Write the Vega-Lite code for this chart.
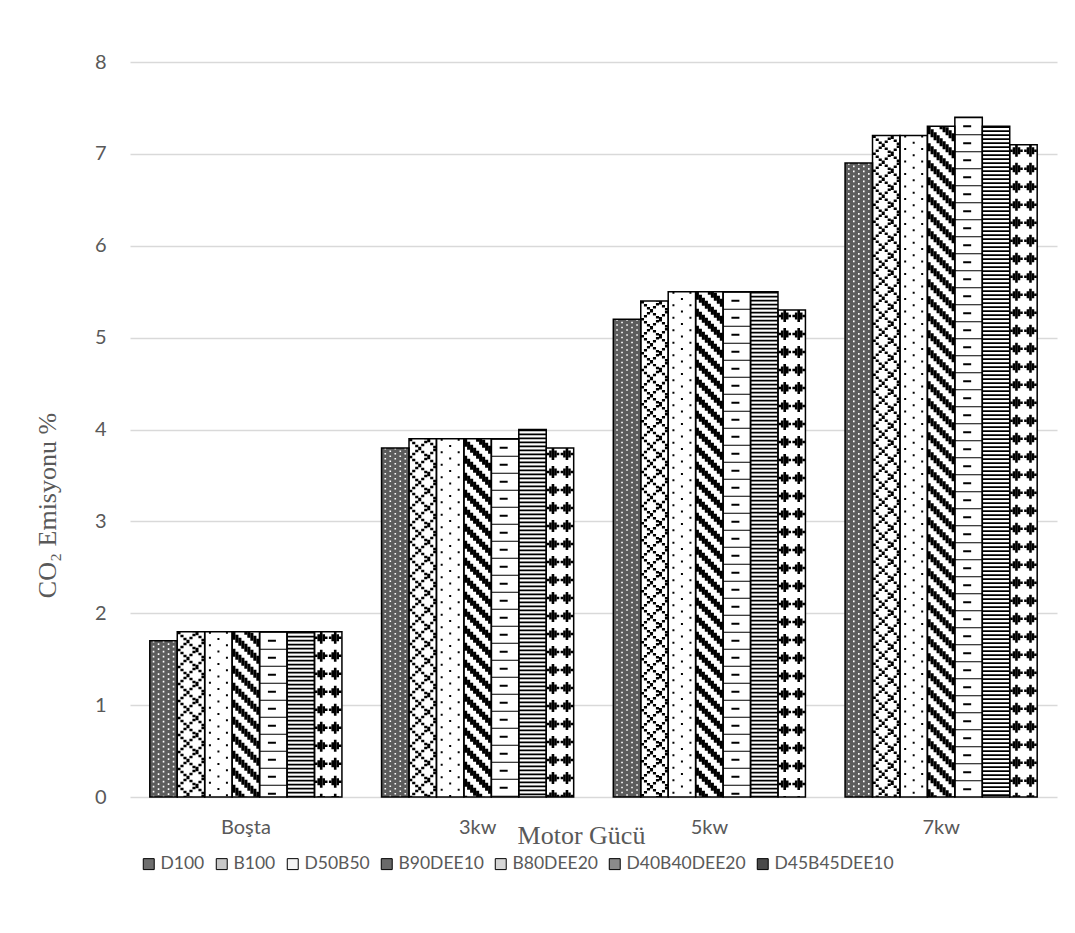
{
  "$schema": "https://vega.github.io/schema/vega-lite/v6.json",
  "width": 927,
  "height": 735,
  "autosize": "none",
  "padding": {"left": 130, "top": 62, "right": 18, "bottom": 136},
  "background": "white",
  "config": {"view": {"stroke": null}, "font": "Lato"},
  "data": {
    "values": [
      {"group": "Boşta", "fuel": "D100", "value": 1.7},
      {"group": "Boşta", "fuel": "B100", "value": 1.8},
      {"group": "Boşta", "fuel": "D50B50", "value": 1.8},
      {"group": "Boşta", "fuel": "B90DEE10", "value": 1.8},
      {"group": "Boşta", "fuel": "B80DEE20", "value": 1.8},
      {"group": "Boşta", "fuel": "D40B40DEE20", "value": 1.8},
      {"group": "Boşta", "fuel": "D45B45DEE10", "value": 1.8},
      {"group": "3kw", "fuel": "D100", "value": 3.8},
      {"group": "3kw", "fuel": "B100", "value": 3.9},
      {"group": "3kw", "fuel": "D50B50", "value": 3.9},
      {"group": "3kw", "fuel": "B90DEE10", "value": 3.9},
      {"group": "3kw", "fuel": "B80DEE20", "value": 3.9},
      {"group": "3kw", "fuel": "D40B40DEE20", "value": 4.0},
      {"group": "3kw", "fuel": "D45B45DEE10", "value": 3.8},
      {"group": "5kw", "fuel": "D100", "value": 5.2},
      {"group": "5kw", "fuel": "B100", "value": 5.4},
      {"group": "5kw", "fuel": "D50B50", "value": 5.5},
      {"group": "5kw", "fuel": "B90DEE10", "value": 5.5},
      {"group": "5kw", "fuel": "B80DEE20", "value": 5.5},
      {"group": "5kw", "fuel": "D40B40DEE20", "value": 5.5},
      {"group": "5kw", "fuel": "D45B45DEE10", "value": 5.3},
      {"group": "7kw", "fuel": "D100", "value": 6.9},
      {"group": "7kw", "fuel": "B100", "value": 7.2},
      {"group": "7kw", "fuel": "D50B50", "value": 7.2},
      {"group": "7kw", "fuel": "B90DEE10", "value": 7.3},
      {"group": "7kw", "fuel": "B80DEE20", "value": 7.4},
      {"group": "7kw", "fuel": "D40B40DEE20", "value": 7.3},
      {"group": "7kw", "fuel": "D45B45DEE10", "value": 7.1}
    ]
  },
  "resolve": {"scale": {"xOffset": "independent"}},
  "encoding": {
    "x": {
      "field": "group",
      "type": "nominal",
      "sort": ["Boşta", "3kw", "5kw", "7kw"],
      "scale": {"paddingInner": 0.171, "paddingOuter": 0.0855},
      "axis": {
        "title": "Motor Gücü",
        "labelAngle": 0,
        "domain": false,
        "ticks": false,
        "labelFont": "Lato",
        "labelFontSize": 20,
        "labelColor": "#595959",
        "labelPadding": 20,
        "titleFont": "Liberation Serif",
        "titleFontSize": 26,
        "titleFontWeight": "normal",
        "titleColor": "#595959",
        "titleAlign": "center",
        "titleBaseline": "alphabetic",
        "titleX": 451,
        "titleY": 46
      }
    },
    "y": {
      "field": "value",
      "type": "quantitative",
      "scale": {"domain": [0, 8]},
      "axis": {
        "title": "CO₂ Emisyonu %",
        "values": [0, 1, 2, 3, 4, 5, 6, 7, 8],
        "domain": false,
        "ticks": false,
        "gridColor": "#d9d9d9",
        "gridWidth": 1.3,
        "labelFont": "Lato",
        "labelFontSize": 20,
        "labelColor": "#595959",
        "labelPadding": 24,
        "titleFont": "Liberation Serif",
        "titleFontSize": 26,
        "titleFontWeight": "normal",
        "titleColor": "#595959",
        "titleAlign": "center",
        "titleBaseline": "alphabetic",
        "titleX": -75,
        "titleY": 443
      }
    }
  },
  "layer": [
    {
      "mark": {"type": "bar"},
      "encoding": {
        "xOffset": {"field": "fuel", "type": "nominal", "scale": {"domain": ["D100", "B100", "D50B50", "B90DEE10", "B80DEE20", "D40B40DEE20", "D45B45DEE10"], "paddingInner": 0, "paddingOuter": 0}},
        "fill": {
          "field": "fuel",
          "type": "nominal",
          "scale": {
            "domain": ["D100", "B100", "D50B50", "B90DEE10", "B80DEE20", "D40B40DEE20", "D45B45DEE10"],
            "range": ["#6e6e6e", "#c8c8c8", "#f4f4f4", "#6a6a6a", "#d6d6d6", "#8a8a8a", "#4a4a4a"]
          },
          "legend": {
            "title": null,
            "orient": "none",
            "legendX": 10,
            "legendY": 793,
            "direction": "horizontal",
            "columns": 7,
            "columnPadding": 8,
            "symbolType": "square",
            "symbolSize": 120,
            "symbolStrokeColor": "black",
            "symbolStrokeWidth": 1,
            "labelFont": "Lato",
            "labelFontSize": 17.5,
            "labelColor": "#595959",
            "labelOffset": 3
          }
        }
      }
    },
    {
      "mark": {"type": "bar"},
      "encoding": {
        "xOffset": {"field": "fuel", "type": "nominal", "scale": {"domain": ["D100", "B100", "D50B50", "B90DEE10", "B80DEE20", "D40B40DEE20", "D45B45DEE10"], "paddingInner": 0, "paddingOuter": 0}},
        "color": {
          "field": "fuel",
          "type": "nominal",
          "scale": {
            "domain": ["D100", "B100", "D50B50", "B90DEE10", "B80DEE20", "D40B40DEE20", "D45B45DEE10"],
            "range": ["#5c5c5c", "#ffffff", "#ffffff", "#ffffff", "#ffffff", "#ffffff", "#ffffff"]
          },
          "legend": null
        }
      }
    },
    {
      "transform": [{"filter": {"field": "fuel", "equal": "D100"}}],
      "mark": {"type": "rule", "color": "white", "strokeWidth": 1.6, "strokeDash": [1.6, 3.4]},
      "encoding": {
        "xOffset": {"field": "fuel", "type": "nominal", "scale": {"domain": ["D100", "B100", "D50B50", "B90DEE10", "B80DEE20", "D40B40DEE20", "D45B45DEE10"], "range": [-10, 182.12], "paddingInner": 0, "paddingOuter": 0}},
        "y2": {"datum": 0}
      }
    },
    {
      "transform": [{"filter": {"field": "fuel", "equal": "D100"}}],
      "mark": {"type": "rule", "color": "white", "strokeWidth": 1.6, "strokeDash": [0, 2.5, 1.6, 0.9]},
      "encoding": {
        "xOffset": {"field": "fuel", "type": "nominal", "scale": {"domain": ["D100", "B100", "D50B50", "B90DEE10", "B80DEE20", "D40B40DEE20", "D45B45DEE10"], "range": [-5, 187.12], "paddingInner": 0, "paddingOuter": 0}},
        "y2": {"datum": 0}
      }
    },
    {
      "transform": [{"filter": {"field": "fuel", "equal": "D100"}}],
      "mark": {"type": "rule", "color": "white", "strokeWidth": 1.6, "strokeDash": [1.6, 3.4]},
      "encoding": {
        "xOffset": {"field": "fuel", "type": "nominal", "scale": {"domain": ["D100", "B100", "D50B50", "B90DEE10", "B80DEE20", "D40B40DEE20", "D45B45DEE10"], "range": [0, 192.12], "paddingInner": 0, "paddingOuter": 0}},
        "y2": {"datum": 0}
      }
    },
    {
      "transform": [{"filter": {"field": "fuel", "equal": "D100"}}],
      "mark": {"type": "rule", "color": "white", "strokeWidth": 1.6, "strokeDash": [0, 2.5, 1.6, 0.9]},
      "encoding": {
        "xOffset": {"field": "fuel", "type": "nominal", "scale": {"domain": ["D100", "B100", "D50B50", "B90DEE10", "B80DEE20", "D40B40DEE20", "D45B45DEE10"], "range": [5, 197.12], "paddingInner": 0, "paddingOuter": 0}},
        "y2": {"datum": 0}
      }
    },
    {
      "transform": [{"filter": {"field": "fuel", "equal": "D100"}}],
      "mark": {"type": "rule", "color": "white", "strokeWidth": 1.6, "strokeDash": [1.6, 3.4]},
      "encoding": {
        "xOffset": {"field": "fuel", "type": "nominal", "scale": {"domain": ["D100", "B100", "D50B50", "B90DEE10", "B80DEE20", "D40B40DEE20", "D45B45DEE10"], "range": [10, 202.12], "paddingInner": 0, "paddingOuter": 0}},
        "y2": {"datum": 0}
      }
    },
    {
      "transform": [{"filter": {"field": "fuel", "oneOf": ["B100", "B90DEE10"]}}],
      "mark": {"type": "rule", "color": "black", "strokeWidth": 3.1},
      "encoding": {
        "xOffset": {"field": "fuel", "type": "nominal", "scale": {"domain": ["D100", "B100", "D50B50", "B90DEE10", "B80DEE20", "D40B40DEE20", "D45B45DEE10"], "range": [-12, 180.12], "paddingInner": 0, "paddingOuter": 0}},
        "y2": {"datum": 0},
        "strokeDash": {"condition": {"test": "datum.fuel === 'B100'", "value": [2.5, 14.5]}, "value": [8, 9]}
      }
    },
    {
      "transform": [{"filter": {"field": "fuel", "oneOf": ["B100", "B90DEE10"]}}],
      "mark": {"type": "rule", "color": "black", "strokeWidth": 3.1},
      "encoding": {
        "xOffset": {"field": "fuel", "type": "nominal", "scale": {"domain": ["D100", "B100", "D50B50", "B90DEE10", "B80DEE20", "D40B40DEE20", "D45B45DEE10"], "range": [-9, 183.12], "paddingInner": 0, "paddingOuter": 0}},
        "y2": {"datum": 0},
        "strokeDash": {"condition": {"test": "datum.fuel === 'B100'", "value": [0, 3, 2.5, 8.5, 2.5, 0.5]}, "value": [0, 3, 8, 6]}
      }
    },
    {
      "transform": [{"filter": {"field": "fuel", "oneOf": ["B100", "B90DEE10"]}}],
      "mark": {"type": "rule", "color": "black", "strokeWidth": 3.1},
      "encoding": {
        "xOffset": {"field": "fuel", "type": "nominal", "scale": {"domain": ["D100", "B100", "D50B50", "B90DEE10", "B80DEE20", "D40B40DEE20", "D45B45DEE10"], "range": [-6, 186.12], "paddingInner": 0, "paddingOuter": 0}},
        "y2": {"datum": 0},
        "strokeDash": {"condition": {"test": "datum.fuel === 'B100'", "value": [0, 6, 2.5, 2.5, 2.5, 3.5]}, "value": [0, 6, 8, 3]}
      }
    },
    {
      "transform": [{"filter": {"field": "fuel", "oneOf": ["B100", "B90DEE10"]}}],
      "mark": {"type": "rule", "color": "black", "strokeWidth": 3.1},
      "encoding": {
        "xOffset": {"field": "fuel", "type": "nominal", "scale": {"domain": ["D100", "B100", "D50B50", "B90DEE10", "B80DEE20", "D40B40DEE20", "D45B45DEE10"], "range": [-3, 189.12], "paddingInner": 0, "paddingOuter": 0}},
        "y2": {"datum": 0},
        "strokeDash": {"condition": {"test": "datum.fuel === 'B100'", "value": [0, 8, 3.5, 5.5]}, "value": [0, 9, 8, 0]}
      }
    },
    {
      "transform": [{"filter": {"field": "fuel", "oneOf": ["B100", "B90DEE10"]}}],
      "mark": {"type": "rule", "color": "black", "strokeWidth": 3.1},
      "encoding": {
        "xOffset": {"field": "fuel", "type": "nominal", "scale": {"domain": ["D100", "B100", "D50B50", "B90DEE10", "B80DEE20", "D40B40DEE20", "D45B45DEE10"], "range": [0, 192.12], "paddingInner": 0, "paddingOuter": 0}},
        "y2": {"datum": 0},
        "strokeDash": {"condition": {"test": "datum.fuel === 'B100'", "value": [0, 5, 2.5, 4.5, 2.5, 2.5]}, "value": [3, 9, 5, 0]}
      }
    },
    {
      "transform": [{"filter": {"field": "fuel", "oneOf": ["B100", "B90DEE10"]}}],
      "mark": {"type": "rule", "color": "black", "strokeWidth": 3.1},
      "encoding": {
        "xOffset": {"field": "fuel", "type": "nominal", "scale": {"domain": ["D100", "B100", "D50B50", "B90DEE10", "B80DEE20", "D40B40DEE20", "D45B45DEE10"], "range": [3, 195.12], "paddingInner": 0, "paddingOuter": 0}},
        "y2": {"datum": 0},
        "strokeDash": {"condition": {"test": "datum.fuel === 'B100'", "value": [0.5, 1.5, 2.5, 10.5, 2, 0]}, "value": [6, 9, 2, 0]}
      }
    },
    {
      "transform": [{"filter": {"field": "fuel", "oneOf": ["B100", "B90DEE10"]}}],
      "mark": {"type": "rule", "color": "black", "strokeWidth": 3.1},
      "encoding": {
        "xOffset": {"field": "fuel", "type": "nominal", "scale": {"domain": ["D100", "B100", "D50B50", "B90DEE10", "B80DEE20", "D40B40DEE20", "D45B45DEE10"], "range": [6, 198.12], "paddingInner": 0, "paddingOuter": 0}},
        "y2": {"datum": 0},
        "strokeDash": {"condition": {"test": "datum.fuel === 'B100'", "value": [3.5, 12.5, 1, 0]}, "value": [0, 1, 8, 8]}
      }
    },
    {
      "transform": [{"filter": {"field": "fuel", "oneOf": ["B100", "B90DEE10"]}}],
      "mark": {"type": "rule", "color": "black", "strokeWidth": 3.1},
      "encoding": {
        "xOffset": {"field": "fuel", "type": "nominal", "scale": {"domain": ["D100", "B100", "D50B50", "B90DEE10", "B80DEE20", "D40B40DEE20", "D45B45DEE10"], "range": [9, 201.12], "paddingInner": 0, "paddingOuter": 0}},
        "y2": {"datum": 0},
        "strokeDash": {"condition": {"test": "datum.fuel === 'B100'", "value": [0, 4, 2.5, 6.5, 2.5, 1.5]}, "value": [0, 4, 8, 5]}
      }
    },
    {
      "transform": [{"filter": {"field": "fuel", "oneOf": ["B100", "B90DEE10"]}}],
      "mark": {"type": "rule", "color": "black", "strokeWidth": 3.1},
      "encoding": {
        "xOffset": {"field": "fuel", "type": "nominal", "scale": {"domain": ["D100", "B100", "D50B50", "B90DEE10", "B80DEE20", "D40B40DEE20", "D45B45DEE10"], "range": [12, 204.12], "paddingInner": 0, "paddingOuter": 0}},
        "y2": {"datum": 0},
        "strokeDash": {"condition": {"test": "datum.fuel === 'B100'", "value": [0, 7, 2.5, 0.5, 2.5, 4.5]}, "value": [0, 7, 8, 2]}
      }
    },
    {
      "transform": [{"filter": {"field": "fuel", "equal": "D50B50"}}],
      "mark": {"type": "rule", "color": "black", "strokeWidth": 2, "strokeDash": [2, 10.5]},
      "encoding": {
        "xOffset": {"field": "fuel", "type": "nominal", "scale": {"domain": ["D100", "B100", "D50B50", "B90DEE10", "B80DEE20", "D40B40DEE20", "D45B45DEE10"], "range": [-8.5, 183.62], "paddingInner": 0, "paddingOuter": 0}},
        "y2": {"datum": 0}
      }
    },
    {
      "transform": [{"filter": {"field": "fuel", "equal": "D50B50"}}],
      "mark": {"type": "rule", "color": "black", "strokeWidth": 2, "strokeDash": [0, 6.25, 2, 4.25]},
      "encoding": {
        "xOffset": {"field": "fuel", "type": "nominal", "scale": {"domain": ["D100", "B100", "D50B50", "B90DEE10", "B80DEE20", "D40B40DEE20", "D45B45DEE10"], "range": [0, 192.12], "paddingInner": 0, "paddingOuter": 0}},
        "y2": {"datum": 0}
      }
    },
    {
      "transform": [{"filter": {"field": "fuel", "equal": "D50B50"}}],
      "mark": {"type": "rule", "color": "black", "strokeWidth": 2, "strokeDash": [2, 10.5]},
      "encoding": {
        "xOffset": {"field": "fuel", "type": "nominal", "scale": {"domain": ["D100", "B100", "D50B50", "B90DEE10", "B80DEE20", "D40B40DEE20", "D45B45DEE10"], "range": [8.5, 200.62], "paddingInner": 0, "paddingOuter": 0}},
        "y2": {"datum": 0}
      }
    },
    {
      "transform": [{"filter": {"field": "fuel", "equal": "B80DEE20"}}],
      "mark": {"type": "rule", "color": "black", "strokeWidth": 27.4, "strokeDash": [1, 16]},
      "encoding": {
        "xOffset": {"field": "fuel", "type": "nominal", "scale": {"domain": ["D100", "B100", "D50B50", "B90DEE10", "B80DEE20", "D40B40DEE20", "D45B45DEE10"], "range": [0, 192.12], "paddingInner": 0, "paddingOuter": 0}},
        "y2": {"datum": 0}
      }
    },
    {
      "transform": [{"filter": {"field": "fuel", "equal": "B80DEE20"}}],
      "mark": {"type": "rule", "color": "black", "strokeWidth": 8, "strokeDash": [0, 8, 2, 7]},
      "encoding": {
        "xOffset": {"field": "fuel", "type": "nominal", "scale": {"domain": ["D100", "B100", "D50B50", "B90DEE10", "B80DEE20", "D40B40DEE20", "D45B45DEE10"], "range": [-1.4, 190.72], "paddingInner": 0, "paddingOuter": 0}},
        "y2": {"datum": 0}
      }
    },
    {
      "transform": [{"filter": {"field": "fuel", "equal": "D40B40DEE20"}}],
      "mark": {"type": "rule", "color": "black", "strokeWidth": 27.4, "strokeDash": [1.8, 2.2]},
      "encoding": {
        "xOffset": {"field": "fuel", "type": "nominal", "scale": {"domain": ["D100", "B100", "D50B50", "B90DEE10", "B80DEE20", "D40B40DEE20", "D45B45DEE10"], "range": [0, 192.12], "paddingInner": 0, "paddingOuter": 0}},
        "y2": {"datum": 0}
      }
    },
    {
      "transform": [{"filter": {"field": "fuel", "equal": "D45B45DEE10"}}],
      "mark": {"type": "rule", "color": "black", "strokeWidth": 2.6, "strokeDash": [0, 4.75, 2.5, 10.75]},
      "encoding": {
        "xOffset": {"field": "fuel", "type": "nominal", "scale": {"domain": ["D100", "B100", "D50B50", "B90DEE10", "B80DEE20", "D40B40DEE20", "D45B45DEE10"], "range": [-12, 180.12], "paddingInner": 0, "paddingOuter": 0}},
        "y2": {"datum": 0}
      }
    },
    {
      "transform": [{"filter": {"field": "fuel", "equal": "D45B45DEE10"}}],
      "mark": {"type": "rule", "color": "black", "strokeWidth": 2.6, "strokeDash": [0, 2.5, 7, 8.5]},
      "encoding": {
        "xOffset": {"field": "fuel", "type": "nominal", "scale": {"domain": ["D100", "B100", "D50B50", "B90DEE10", "B80DEE20", "D40B40DEE20", "D45B45DEE10"], "range": [-9.5, 182.62], "paddingInner": 0, "paddingOuter": 0}},
        "y2": {"datum": 0}
      }
    },
    {
      "transform": [{"filter": {"field": "fuel", "equal": "D45B45DEE10"}}],
      "mark": {"type": "rule", "color": "black", "strokeWidth": 2.6, "strokeDash": [12, 6]},
      "encoding": {
        "xOffset": {"field": "fuel", "type": "nominal", "scale": {"domain": ["D100", "B100", "D50B50", "B90DEE10", "B80DEE20", "D40B40DEE20", "D45B45DEE10"], "range": [-7, 185.12], "paddingInner": 0, "paddingOuter": 0}},
        "y2": {"datum": 0}
      }
    },
    {
      "transform": [{"filter": {"field": "fuel", "equal": "D45B45DEE10"}}],
      "mark": {"type": "rule", "color": "black", "strokeWidth": 2.6, "strokeDash": [0, 2.5, 7, 8.5]},
      "encoding": {
        "xOffset": {"field": "fuel", "type": "nominal", "scale": {"domain": ["D100", "B100", "D50B50", "B90DEE10", "B80DEE20", "D40B40DEE20", "D45B45DEE10"], "range": [-4.5, 187.62], "paddingInner": 0, "paddingOuter": 0}},
        "y2": {"datum": 0}
      }
    },
    {
      "transform": [{"filter": {"field": "fuel", "equal": "D45B45DEE10"}}],
      "mark": {"type": "rule", "color": "black", "strokeWidth": 2.6, "strokeDash": [0, 4.75, 2.5, 10.75]},
      "encoding": {
        "xOffset": {"field": "fuel", "type": "nominal", "scale": {"domain": ["D100", "B100", "D50B50", "B90DEE10", "B80DEE20", "D40B40DEE20", "D45B45DEE10"], "range": [-2, 190.12], "paddingInner": 0, "paddingOuter": 0}},
        "y2": {"datum": 0}
      }
    },
    {
      "transform": [{"filter": {"field": "fuel", "equal": "D45B45DEE10"}}],
      "mark": {"type": "rule", "color": "black", "strokeWidth": 2.6, "strokeDash": [0, 4.75, 2.5, 10.75]},
      "encoding": {
        "xOffset": {"field": "fuel", "type": "nominal", "scale": {"domain": ["D100", "B100", "D50B50", "B90DEE10", "B80DEE20", "D40B40DEE20", "D45B45DEE10"], "range": [2, 194.12], "paddingInner": 0, "paddingOuter": 0}},
        "y2": {"datum": 0}
      }
    },
    {
      "transform": [{"filter": {"field": "fuel", "equal": "D45B45DEE10"}}],
      "mark": {"type": "rule", "color": "black", "strokeWidth": 2.6, "strokeDash": [0, 2.5, 7, 8.5]},
      "encoding": {
        "xOffset": {"field": "fuel", "type": "nominal", "scale": {"domain": ["D100", "B100", "D50B50", "B90DEE10", "B80DEE20", "D40B40DEE20", "D45B45DEE10"], "range": [4.5, 196.62], "paddingInner": 0, "paddingOuter": 0}},
        "y2": {"datum": 0}
      }
    },
    {
      "transform": [{"filter": {"field": "fuel", "equal": "D45B45DEE10"}}],
      "mark": {"type": "rule", "color": "black", "strokeWidth": 2.6, "strokeDash": [12, 6]},
      "encoding": {
        "xOffset": {"field": "fuel", "type": "nominal", "scale": {"domain": ["D100", "B100", "D50B50", "B90DEE10", "B80DEE20", "D40B40DEE20", "D45B45DEE10"], "range": [7, 199.12], "paddingInner": 0, "paddingOuter": 0}},
        "y2": {"datum": 0}
      }
    },
    {
      "transform": [{"filter": {"field": "fuel", "equal": "D45B45DEE10"}}],
      "mark": {"type": "rule", "color": "black", "strokeWidth": 2.6, "strokeDash": [0, 2.5, 7, 8.5]},
      "encoding": {
        "xOffset": {"field": "fuel", "type": "nominal", "scale": {"domain": ["D100", "B100", "D50B50", "B90DEE10", "B80DEE20", "D40B40DEE20", "D45B45DEE10"], "range": [9.5, 201.62], "paddingInner": 0, "paddingOuter": 0}},
        "y2": {"datum": 0}
      }
    },
    {
      "transform": [{"filter": {"field": "fuel", "equal": "D45B45DEE10"}}],
      "mark": {"type": "rule", "color": "black", "strokeWidth": 2.6, "strokeDash": [0, 4.75, 2.5, 10.75]},
      "encoding": {
        "xOffset": {"field": "fuel", "type": "nominal", "scale": {"domain": ["D100", "B100", "D50B50", "B90DEE10", "B80DEE20", "D40B40DEE20", "D45B45DEE10"], "range": [12, 204.12], "paddingInner": 0, "paddingOuter": 0}},
        "y2": {"datum": 0}
      }
    },
    {
      "mark": {"type": "bar", "fill": "transparent", "stroke": "black", "strokeWidth": 1.5},
      "encoding": {
        "xOffset": {"field": "fuel", "type": "nominal", "scale": {"domain": ["D100", "B100", "D50B50", "B90DEE10", "B80DEE20", "D40B40DEE20", "D45B45DEE10"], "paddingInner": 0, "paddingOuter": 0}}
      }
    }
  ]
}
